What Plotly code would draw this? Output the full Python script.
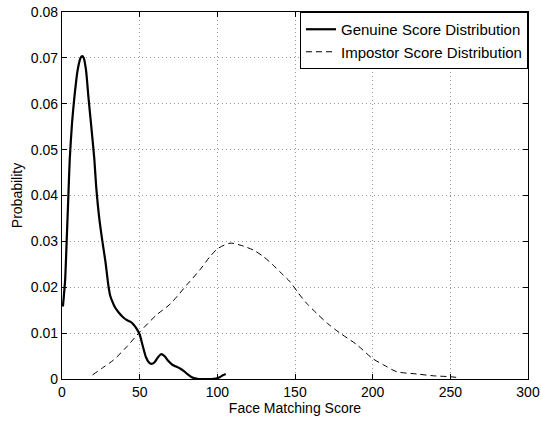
import plotly.graph_objects as go

# Genuine score distribution (score, probability)
genuine_x = [0.6, 2, 3, 4, 5, 6.5, 8, 10, 12, 13, 14, 15.5, 17, 19, 20.8, 22, 24, 26,
             28, 29.8, 31, 32.5, 34, 36.5, 39.5, 42, 44, 46, 48, 50, 52, 54, 56, 57.5,
             59.5, 61.5, 63.7, 66, 68.5, 71, 73.5, 76, 78.5, 81, 83, 85, 88, 92, 96,
             99, 101.5, 103.5, 105.4]
genuine_y = [0.0158, 0.0215, 0.0300, 0.0390, 0.0480, 0.0560, 0.0615, 0.0672, 0.0700,
             0.0704, 0.0700, 0.0672, 0.0615, 0.0545, 0.0480, 0.0420, 0.0350, 0.0300,
             0.0255, 0.0205, 0.0182, 0.0168, 0.0157, 0.0145, 0.0134, 0.0128, 0.0125,
             0.0119, 0.0110, 0.0097, 0.0072, 0.0048, 0.0036, 0.0033, 0.0036, 0.0046,
             0.0054, 0.0050, 0.0039, 0.0031, 0.0027, 0.0023, 0.0017, 0.0010, 0.0005,
             0.0002, 0.0000, 0.0000, 0.0000, 0.0001, 0.0004, 0.0008, 0.0011]

# Impostor score distribution (score, probability)
impostor_x = [19.7, 26, 33, 41.6, 50.2, 61, 69.5, 80.3, 88.8, 95.3, 100.6, 108.2,
              114.6, 123.2, 129.6, 136, 141.4, 146.8, 152.2, 157.5, 164, 171, 179,
              189.7, 199.8, 206.9, 215.5, 228.3, 239, 250, 255.2]
impostor_y = [0.0009, 0.0024, 0.0041, 0.0070, 0.0103, 0.0140, 0.0163, 0.0205,
              0.0238, 0.0267, 0.0285, 0.0296, 0.0292, 0.0281, 0.0267, 0.0248,
              0.0230, 0.0212, 0.0187, 0.0165, 0.0143, 0.0121, 0.0100, 0.0075,
              0.0045, 0.0031, 0.0016, 0.0011, 0.0007, 0.0005, 0.0003]

x_ticks = [0, 50, 100, 150, 200, 250, 300]
y_ticks = [0, 0.01, 0.02, 0.03, 0.04, 0.05, 0.06, 0.07, 0.08]
y_tick_text = ["0", "0.01", "0.02", "0.03", "0.04", "0.05", "0.06", "0.07", "0.08"]

FONT = "Liberation Sans, Arial, sans-serif"

fig = go.Figure()
fig.add_trace(go.Scatter(
    x=genuine_x, y=genuine_y, mode="lines",
    name="Genuine Score Distribution",
    line=dict(color="black", width=2.2, shape="spline", smoothing=0.6),
))
fig.add_trace(go.Scatter(
    x=impostor_x, y=impostor_y, mode="lines",
    name="Impostor Score Distribution",
    line=dict(color="black", width=1, dash="6px,4px", shape="spline", smoothing=0.8),
))

axis_common = dict(
    showline=True, linecolor="black", linewidth=1.2, mirror="ticks",
    ticks="inside", ticklen=5, tickcolor="black",
    showgrid=True, gridcolor="#9a9a9a", griddash="1px,3px", gridwidth=1,
    zeroline=False, automargin=False,
    tickfont=dict(family=FONT, size=14, color="black"),
)

fig.update_xaxes(
    range=[0, 300], tickvals=x_ticks, ticktext=[str(v) for v in x_ticks],
    title=dict(text="Face Matching Score", font=dict(family=FONT, size=14, color="black"),
               standoff=0),
    **axis_common,
)
fig.update_yaxes(
    range=[0, 0.08], tickvals=y_ticks, ticktext=y_tick_text,
    title=dict(text="Probability", font=dict(family=FONT, size=14, color="black"),
               standoff=4),
    **axis_common,
)

fig.update_layout(
    width=541, height=421,
    margin=dict(l=62, r=13, t=12, b=42),
    paper_bgcolor="white", plot_bgcolor="white",
    showlegend=True,
    legend=dict(
        x=1, y=1, xanchor="right", yanchor="top",
        bgcolor="white", bordercolor="black", borderwidth=1,
        font=dict(family=FONT, size=15, color="black"),
        itemwidth=30, tracegroupgap=0,
    ),
)

fig.write_html("out.html")
